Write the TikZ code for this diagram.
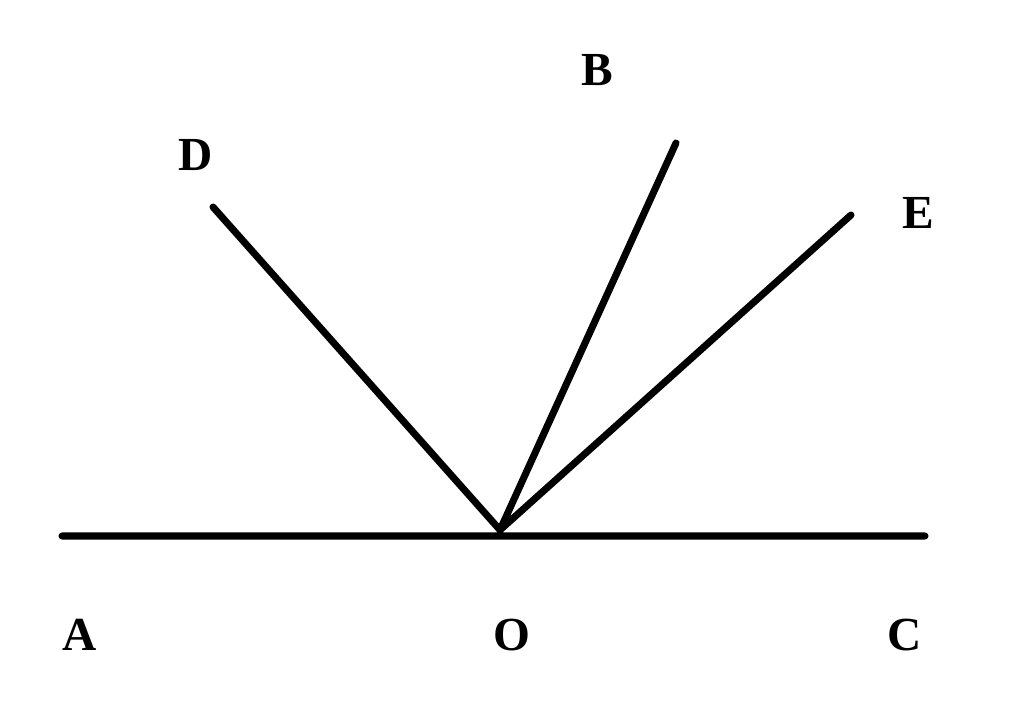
\documentclass[tikz,border=0pt]{standalone}
\usepackage{fontspec}
\setmainfont{Liberation Serif}
\usepackage{tikz}
\usetikzlibrary{positioning}

\begin{document}
\begin{tikzpicture}[x=0.02cm,y=-0.02cm,line cap=round,
                    semithick]
\tikzstyle{every label}=[font=\fontsize{27pt}{30}\selectfont\bfseries]
\tikzset{ray/.style={draw=black,line width=4pt}}
\tikzset{lbl/.style={font=\fontsize{27pt}{30}\selectfont\bfseries,inner sep=0pt}}

        \useasboundingbox (0,0) rectangle (1024,714);

        \coordinate (O) at (500,530);
        \coordinate (Al) at (62,536);
        \coordinate (Cr) at (925,536);
        \coordinate (Dt) at (213,207);
        \coordinate (Bt) at (676,143);
        \coordinate (Et) at (851,215);

        \node[lbl]                (A)  at (80,635)  {A};
        \node[lbl]                (Ol) at (512,635) {O};
        \node[lbl]                (C)  at (905,635) {C};
        \node[lbl]                (D)  at (196,155) {D};
        \node[lbl]                (B)  at (597,70)  {B};
        \node[lbl]                (E)  at (918,213) {E};

        \path[ray]
        (Al)  -- (Cr)
        (O)   -- (Dt)
        (O)   -- (Bt)
        (O)   -- (Et)
        ; %end path

\end{tikzpicture}
\end{document}
